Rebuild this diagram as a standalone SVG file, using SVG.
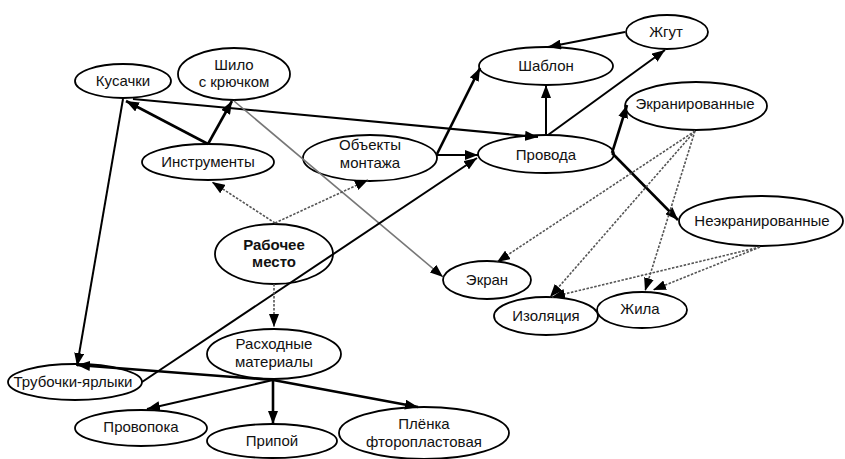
<svg xmlns="http://www.w3.org/2000/svg" width="845" height="459" viewBox="0 0 845 459">
<defs>
<marker id="ah" viewBox="0 0 13 10" refX="13" refY="5" markerWidth="13" markerHeight="10" markerUnits="userSpaceOnUse" orient="auto"><path d="M0,0 L13,5 L0,10 z" fill="#000"/></marker>
</defs>
<style>
.n ellipse{fill:#fff;stroke:#000;stroke-width:1.8}
.n text{font-family:"Liberation Sans",Arial,sans-serif;font-size:15px;text-anchor:middle;fill:#111}
.b{font-weight:bold}
.e line{marker-end:url(#ah);fill:none}
.t{stroke:#000;stroke-width:2.6}
.m{stroke:#000;stroke-width:2}
.g{stroke:#777;stroke-width:1.6}
.d{stroke:#555;stroke-width:1.6;stroke-dasharray:2.5,1.5}
</style>
<rect width="845" height="459" fill="#fff"/>
<g class="n">
<g id="kusachki"><ellipse cx="123" cy="81" rx="48" ry="17"/><text x="123" y="86">Кусачки</text></g>
<g id="shilo"><ellipse cx="234" cy="74" rx="56" ry="26"/><text x="234" y="70">Шило</text><text x="234" y="87">с крючком</text></g>
<g id="instrumenty"><ellipse cx="208" cy="162" rx="66" ry="18"/><text x="208" y="167">Инструменты</text></g>
<g id="obekty"><ellipse cx="370" cy="158" rx="67" ry="23"/><text x="370" y="150">Объекты</text><text x="370" y="168">монтажа</text></g>
<g id="rabochee"><ellipse cx="274" cy="254" rx="59" ry="30"/><text class="b" x="274" y="250">Рабочее</text><text class="b" x="274" y="267">место</text></g>
<g id="ekran"><ellipse cx="487" cy="280" rx="44" ry="19"/><text x="487" y="285">Экран</text></g>
<g id="zhgut"><ellipse cx="667" cy="32" rx="41" ry="17"/><text x="666" y="37">Жгут</text></g>
<g id="shablon"><ellipse cx="546" cy="66" rx="67" ry="19"/><text x="546" y="71">Шаблон</text></g>
<g id="ekranirovannye"><ellipse cx="696" cy="106" rx="71" ry="24"/><text x="695" y="109">Экранированные</text></g>
<g id="provoda"><ellipse cx="546" cy="154" rx="68" ry="19"/><text x="546" y="160">Провода</text></g>
<g id="neekranirovannye"><ellipse cx="761" cy="221" rx="82" ry="25"/><text x="762" y="226">Неэкранированные</text></g>
<g id="izolyaciya"><ellipse cx="546" cy="316" rx="52" ry="19"/><text x="546" y="321">Изоляция</text></g>
<g id="zhila"><ellipse cx="642" cy="310" rx="45" ry="18"/><text x="640" y="314">Жила</text></g>
<g id="trubochki"><ellipse cx="75" cy="382" rx="67" ry="18"/><text x="73" y="387">Трубочки-ярлыки</text></g>
<g id="rashodnye"><ellipse cx="274" cy="354" rx="67" ry="25"/><text x="274" y="349">Расходные</text><text x="274" y="367">материалы</text></g>
<g id="provoloka"><ellipse cx="141" cy="428" rx="66" ry="18"/><text x="141" y="432">Провопока</text></g>
<g id="pripoy"><ellipse cx="272" cy="441" rx="65" ry="17"/><text x="272" y="446">Припой</text></g>
<g id="plenka"><ellipse cx="424" cy="433" rx="85" ry="26"/><text x="424" y="429">Плёнка</text><text x="424" y="447">фторопластовая</text></g>
</g>
<g class="e">
<line class="t" x1="208" y1="144" x2="126" y2="101"/>
<line class="t" x1="208" y1="144" x2="232" y2="101"/>
<line class="m" x1="133" y1="99" x2="538" y2="137"/>
<line class="m" x1="123" y1="99" x2="77" y2="366"/>
<line class="g" x1="234" y1="101" x2="443" y2="277"/>
<line class="t" x1="437" y1="154" x2="480" y2="68"/>
<line class="m" x1="437" y1="155" x2="478" y2="155"/>
<line class="m" x1="142" y1="382" x2="477" y2="158"/>
<line class="m" x1="546" y1="135" x2="546" y2="85"/>
<line class="m" x1="548" y1="135" x2="665" y2="50"/>
<line class="m" x1="625" y1="32" x2="548" y2="47"/>
<line class="t" x1="612" y1="153" x2="627" y2="105"/>
<line class="t" x1="612" y1="153" x2="678" y2="220"/>
<line class="t" x1="273" y1="380" x2="77" y2="365"/>
<line class="t" x1="273" y1="380" x2="418" y2="407"/>
<line class="m" x1="273" y1="380" x2="147" y2="409"/>
<line class="t" x1="273" y1="380" x2="273" y2="424"/>
<line class="d" x1="275" y1="223" x2="212" y2="182"/>
<line class="d" x1="275" y1="223" x2="368" y2="180"/>
<line class="d" x1="274" y1="284" x2="274" y2="327"/>
<line class="d" x1="695" y1="131" x2="497" y2="262"/>
<line class="d" x1="695" y1="131" x2="550" y2="297"/>
<line class="d" x1="695" y1="131" x2="645" y2="291"/>
<line class="d" x1="760" y1="247" x2="552" y2="297"/>
<line class="d" x1="760" y1="247" x2="653" y2="290"/>
</g>
</svg>
